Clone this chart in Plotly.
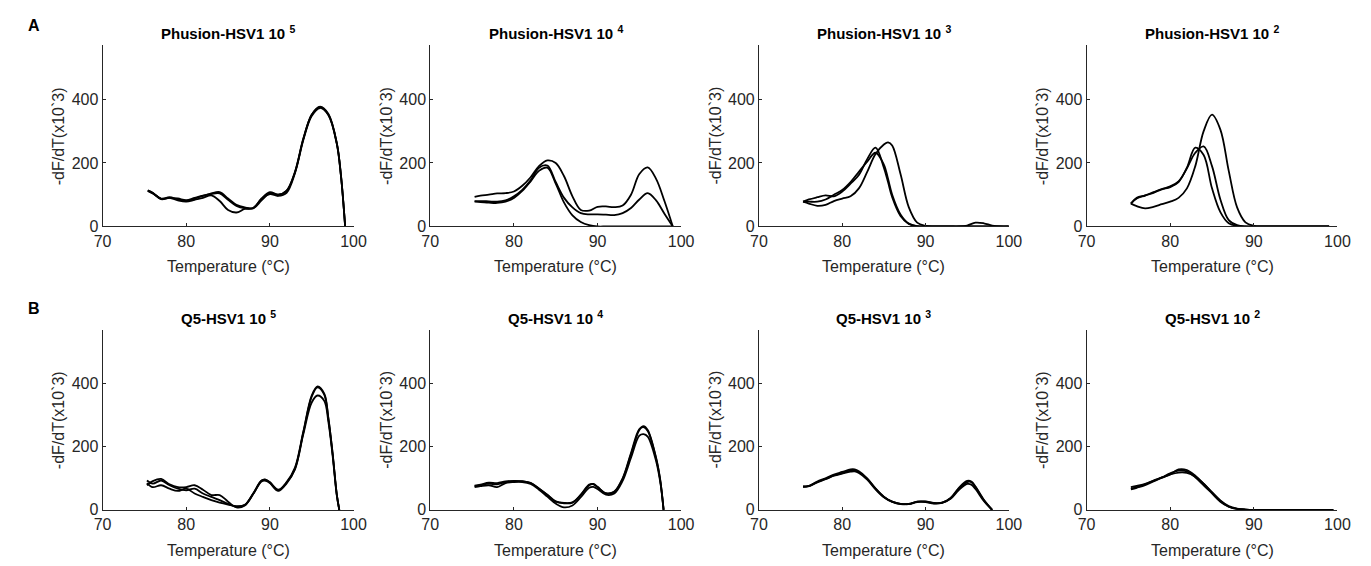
import plotly.graph_objects as go
from plotly.subplots import make_subplots

# melt curves, -dF/dT (x10^-3) vs temperature, three replicates per panel
titles = ['Phusion-HSV1 10 <sup>5</sup>', 'Phusion-HSV1 10 <sup>4</sup>',
          'Phusion-HSV1 10 <sup>3</sup>', 'Phusion-HSV1 10 <sup>2</sup>',
          'Q5-HSV1 10 <sup>5</sup>', 'Q5-HSV1 10 <sup>4</sup>',
          'Q5-HSV1 10 <sup>3</sup>', 'Q5-HSV1 10 <sup>2</sup>']

x_ticks = [70, 80, 90, 100]
y_ticks = [0, 200, 400]

# Phusion 10^5
temp_a1 = [75.4, 76, 77, 78, 79, 80, 81, 82, 83, 84, 85, 86, 87, 88, 89, 90, 91, 92, 93, 94, 95, 96, 97, 98, 98.5, 99]
a1_r1 = [114, 106, 87, 92, 85, 80, 88, 96, 104, 108, 88, 68, 60, 57, 82, 105, 100, 112, 170, 275, 352, 376, 352, 262, 160, 0]
a1_r2 = [112, 104, 88, 90, 88, 83, 90, 97, 102, 104, 84, 65, 58, 58, 86, 102, 96, 106, 168, 272, 348, 373, 350, 260, 158, 0]
a1_r3 = [113, 105, 86, 90, 82, 78, 84, 90, 98, 80, 52, 44, 55, 58, 88, 108, 100, 113, 172, 277, 352, 377, 354, 263, 162, 0]

# Phusion 10^4
temp_a2 = [75.3, 76, 77, 78, 79, 80, 81, 82, 83, 84, 85, 86, 87, 88, 89, 90, 91, 92, 93, 94, 95, 96, 97, 98, 99]
a2_r1 = [93, 97, 100, 104, 105, 110, 128, 155, 190, 208, 200, 158, 95, 52, 50, 62, 63, 61, 66, 100, 165, 186, 150, 80, 0]
a2_r2 = [80, 80, 79, 78, 82, 95, 115, 145, 185, 192, 140, 90, 60, 42, 38, 38, 37, 36, 42, 58, 85, 105, 82, 40, 0]
a2_r3 = [78, 77, 75, 74, 78, 90, 112, 142, 175, 185, 135, 75, 35, 14, 4, 0, 0, 0, 0, 0, 0, 0, 0, 0, 0]

# Phusion 10^3
temp_a3 = [75.3, 76, 77, 78, 79, 80, 81, 82, 83, 84, 85, 85.5, 86, 87, 88, 89, 90, 91, 92, 93, 94, 95, 96, 97, 98, 99, 100]
a3_r1 = [78, 72, 65, 68, 80, 88, 95, 120, 172, 228, 258, 265, 255, 165, 60, 12, 2, 0, 0, 0, 0, 0, 0, 0, 0, 0, 0]
a3_r2 = [78, 85, 92, 98, 95, 110, 135, 162, 212, 248, 185, 140, 92, 33, 8, 1, 0, 0, 0, 0, 0, 0, 0, 0, 0, 0, 0]
a3_r3 = [78, 78, 78, 85, 100, 115, 140, 172, 204, 232, 195, 150, 100, 38, 9, 1, 0, 0, 0, 0, 0, 3, 12, 10, 3, 0, 0]

# Phusion 10^2
temp_a4 = [75.3, 76, 77, 78, 79, 80, 81, 82, 83, 84, 85, 86, 87, 88, 89, 90, 91, 92, 93, 94, 95, 96, 97, 98, 99]
a4_r1 = [72, 64, 57, 62, 70, 78, 90, 120, 190, 300, 352, 305, 175, 60, 13, 2, 0, 0, 0, 0, 0, 0, 0, 0, 0]
a4_r2 = [72, 90, 98, 108, 118, 126, 142, 183, 232, 252, 190, 85, 20, 4, 0, 0, 0, 0, 0, 0, 0, 0, 0, 0, 0]
a4_r3 = [72, 88, 97, 106, 117, 124, 140, 185, 248, 225, 120, 45, 10, 2, 0, 0, 0, 0, 0, 0, 0, 0, 0, 0, 0]

# Q5 10^5
temp_b1 = [75.3, 76, 77, 78, 79, 80, 81, 82, 83, 84, 85, 86, 87, 88, 89, 89.5, 90, 91, 92, 93, 94, 95, 95.7, 96.5, 97, 97.5, 98, 98.3]
b1_r1 = [93, 83, 93, 78, 67, 62, 67, 52, 41, 31, 19, 10, 16, 52, 93, 95, 88, 64, 88, 134, 248, 362, 391, 368, 290, 180, 50, 0]
b1_r2 = [78, 91, 98, 81, 72, 72, 78, 64, 47, 47, 26, 8, 14, 50, 92, 96, 86, 62, 86, 130, 245, 358, 388, 365, 288, 178, 48, 0]
b1_r3 = [85, 72, 78, 67, 60, 67, 52, 41, 31, 23, 17, 12, 15, 50, 90, 92, 85, 60, 84, 128, 240, 340, 362, 345, 278, 172, 46, 0]

# Q5 10^4
temp_b2 = [75.3, 76, 77, 78, 79, 80, 81, 82, 83, 84, 85, 86, 87, 88, 89, 89.5, 90, 91, 92, 93, 94, 95, 95.5, 96, 97, 97.5, 97.9]
b2_r1 = [75, 78, 83, 81, 88, 90, 90, 85, 67, 47, 26, 21, 23, 47, 78, 81, 72, 52, 57, 98, 176, 253, 265, 253, 165, 95, 0]
b2_r2 = [72, 75, 78, 72, 85, 88, 88, 82, 64, 42, 20, 8, 14, 40, 70, 73, 66, 48, 52, 92, 165, 235, 240, 232, 155, 88, 0]
b2_r3 = [77, 80, 86, 85, 90, 92, 91, 86, 68, 48, 27, 22, 24, 48, 80, 82, 73, 53, 58, 100, 180, 256, 262, 250, 163, 93, 0]

# Q5 10^3
temp_b3 = [75.3, 76, 77, 78, 79, 80, 81, 81.5, 82, 83, 84, 85, 86, 87, 88, 89, 90, 91, 92, 93, 94, 95, 95.5, 96, 97, 98]
b3_r1 = [74, 75, 88, 98, 109, 117, 124, 124, 119, 98, 67, 41, 26, 19, 19, 26, 26, 21, 23, 36, 67, 88, 88, 72, 31, 0]
b3_r2 = [74, 76, 90, 100, 112, 120, 128, 128, 122, 100, 68, 42, 26, 19, 18, 25, 27, 22, 23, 38, 70, 92, 90, 74, 32, 0]
b3_r3 = [73, 75, 87, 97, 108, 115, 121, 122, 117, 96, 65, 40, 25, 18, 19, 26, 25, 20, 22, 35, 63, 82, 80, 66, 28, 0]

# Q5 10^2
temp_b4 = [75.3, 76, 77, 78, 79, 80, 81, 82, 83, 84, 85, 86, 87, 88, 89, 90, 95, 99.5]
b4_r1 = [67, 72, 81, 93, 103, 116, 124, 122, 103, 78, 52, 26, 10, 3, 1, 0, 0, 0]
b4_r2 = [72, 76, 82, 92, 102, 112, 118, 117, 105, 83, 56, 30, 12, 4, 1, 0, 0, 0]
b4_r3 = [65, 70, 78, 90, 102, 112, 128, 126, 108, 83, 55, 28, 10, 3, 1, 0, 0, 0]

panels = [
    (temp_a1, [a1_r1, a1_r2, a1_r3]), (temp_a2, [a2_r1, a2_r2, a2_r3]),
    (temp_a3, [a3_r1, a3_r2, a3_r3]), (temp_a4, [a4_r1, a4_r2, a4_r3]),
    (temp_b1, [b1_r1, b1_r2, b1_r3]), (temp_b2, [b2_r1, b2_r2, b2_r3]),
    (temp_b3, [b3_r1, b3_r2, b3_r3]), (temp_b4, [b4_r1, b4_r2, b4_r3]),
]

W, H = 1371, 566
# pixel placement of the axes boxes
col_px = [(87, 342), (420, 675), (754, 1008), (1087, 1342)]
row_px = [(38, 222), (327, 510)]
AX = '#262626'
FONT = 'Liberation Sans, Arial, sans-serif'


def px_x(p):
    return p / W


def px_y(p):
    return 1 - p / H


def create_figure():
    fig = make_subplots(rows=2, cols=4)
    for k, (temp, reps) in enumerate(panels):
        r, c = k // 4 + 1, k % 4 + 1
        for vals in reps:
            fig.add_trace(go.Scatter(x=temp, y=vals, mode='lines', line=dict(color='black', width=1.8, shape='spline'),
                                     showlegend=False, hoverinfo='skip'), row=r, col=c)
    for k in range(8):
        r, c = k // 4, k % 4
        x0, x1 = col_px[c]
        y0, y1 = row_px[r]
        fig.update_xaxes(domain=[px_x(x0), px_x(x1)], range=[70, 100], tickvals=x_ticks, row=r + 1, col=c + 1)
        fig.update_yaxes(domain=[px_y(y1), px_y(y0)], range=[0, 570], tickvals=y_ticks, row=r + 1, col=c + 1)
        cx = px_x((x0 + x1) / 2)
        fig.add_annotation(text='<b>' + titles[k] + '</b>', x=cx, y=px_y(y0 - 13), xref='paper', yref='paper',
                           showarrow=False, font=dict(size=15, color='black', family=FONT),
                           xanchor='center', yanchor='middle')
        fig.add_annotation(text='Temperature (°C)', x=cx, y=px_y(y1 + 41), xref='paper', yref='paper',
                           showarrow=False, font=dict(size=16, color=AX, family=FONT),
                           xanchor='center', yanchor='middle')
        fig.add_annotation(text='-dF/dT(x10`3)', x=px_x(x0 - 44), y=px_y((y0 + y1) / 2), xref='paper', yref='paper',
                           showarrow=False, textangle=-90, font=dict(size=16, color=AX, family=FONT),
                           xanchor='center', yanchor='middle')
    for lab, py in [('A', 18), ('B', 305)]:
        fig.add_annotation(text='<b>' + lab + '</b>', x=px_x(17), y=px_y(py), xref='paper', yref='paper',
                           showarrow=False, font=dict(size=16, color='black', family=FONT),
                           xanchor='center', yanchor='middle')
    fig.update_xaxes(showline=True, linecolor=AX, linewidth=1, ticks='inside', ticklen=3, tickcolor=AX,
                     showgrid=False, zeroline=False, tickfont=dict(size=16, color=AX, family=FONT), fixedrange=True)
    fig.update_yaxes(showline=True, linecolor=AX, linewidth=1, ticks='inside', ticklen=3, tickcolor=AX,
                     showgrid=False, zeroline=False, tickfont=dict(size=16, color=AX, family=FONT), fixedrange=True)
    fig.update_layout(width=W, height=H, margin=dict(l=0, r=0, t=0, b=0), template='plotly_white',
                      plot_bgcolor='white', paper_bgcolor='white')
    return fig


if __name__ == '__main__':
    fig = create_figure()
    fig.write_html("out.html")
